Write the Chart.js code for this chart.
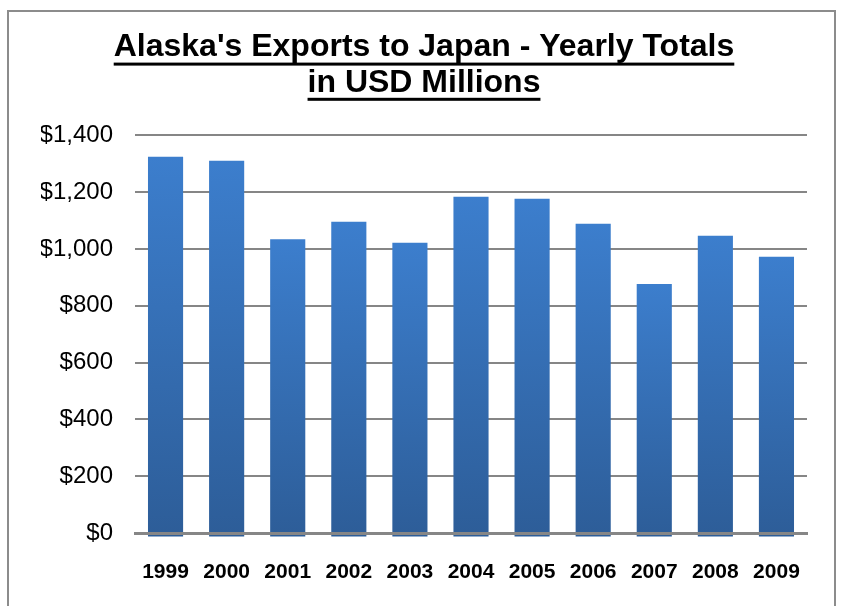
<!DOCTYPE html>
<html>
<head>
<meta charset="utf-8">
<script src="https://cdn.jsdelivr.net/npm/chart.js@4.4.1/dist/chart.umd.min.js"></script>
<style>
body { margin: 0; background: #fff; }
canvas { display: block; }
</style>
</head>
<body>
<canvas id="exportsChart" width="841" height="606"></canvas>
<script>
var years = ['1999', '2000', '2001', '2002', '2003', '2004', '2005', '2006', '2007', '2008', '2009'];
var exportTotals = [1325, 1311, 1034, 1096, 1022, 1184, 1177, 1089, 877, 1047, 973];
var titleLines = ["Alaska's Exports to Japan - Yearly Totals", 'in USD Millions'];

var ctx = document.getElementById('exportsChart').getContext('2d');

// gray frame round the whole chart
const framePlugin = {
    id: 'frame',
    beforeDraw(chart) {
        const c = chart.ctx;
        c.save();
        c.strokeStyle = '#8c8c8c';
        c.lineWidth = 2;
        c.strokeRect(8, 11, 827, 620);
        c.restore();
    }
};

// underline the title lines
const underlinePlugin = {
    id: 'titleUnderline',
    afterDraw(chart) {
        const t = chart.titleBlock;
        if (!t) return;
        const c = chart.ctx;
        const opts = t.options;
        const size = opts.font.size;
        const lh = size * opts.font.lineHeight;
        c.save();
        c.font = 'bold ' + size + 'px "Liberation Sans", Arial, sans-serif';
        c.fillStyle = '#000';
        const cx = (t.left + t.right) / 2;
        opts.text.forEach(function(line, i) {
            const w = c.measureText(line).width;
            const y = t.top + opts.padding.top + lh / 2 + i * lh + 15;
            c.fillRect(cx - w / 2, y, w, 3);
        });
        c.restore();
    }
};

function barGradient(context) {
    const chart = context.chart;
    if (!chart.chartArea || !chart.scales.y) return '#3a78c6';
    const yScale = chart.scales.y;
    const v = context.raw;
    const top = yScale.getPixelForValue(v);
    const bottom = yScale.getPixelForValue(0) + 4;
    const g = chart.ctx.createLinearGradient(0, top, 0, bottom);
    g.addColorStop(0, '#3c7ecd');
    g.addColorStop(1, '#2d5d98');
    return g;
}

var exportsChart = new Chart(ctx, {
    type: 'bar',
    data: {
        labels: years,
        datasets: [{
            data: exportTotals,
            backgroundColor: barGradient,
            borderWidth: 0,
            base: -12,
            clip: false,
            categoryPercentage: 1,
            barPercentage: 0.575
        }]
    },
    options: {
        responsive: false,
        animation: false,
        layout: {
            padding: { left: 41, right: 34, top: 0, bottom: 21 }
        },
        scales: {
            x: {
                afterFit: function(scale) { scale.height = 52; },
                grid: { display: false, drawTicks: false },
                border: { display: true, color: '#868686', width: 3, z: 1 },
                ticks: {
                    color: '#000',
                    padding: 27,
                    font: { family: '"Liberation Sans", Arial, sans-serif', size: 21, weight: 'bold' }
                }
            },
            y: {
                min: 0,
                max: 1400,
                afterFit: function(scale) { scale.width = 94; },
                border: { display: false },
                grid: { color: '#868686', lineWidth: 2, drawTicks: false },
                ticks: {
                    stepSize: 200,
                    color: '#000',
                    padding: 22,
                    font: { family: '"Liberation Sans", Arial, sans-serif', size: 24 },
                    callback: function(value) {
                        return '$' + value.toLocaleString('en-US');
                    }
                }
            }
        },
        plugins: {
            legend: { display: false },
            tooltip: { enabled: false },
            title: {
                display: true,
                text: titleLines,
                color: '#000',
                font: { family: '"Liberation Sans", Arial, sans-serif', size: 32, weight: 'bold', lineHeight: 1.1 },
                padding: { top: 30, bottom: 35 }
            }
        }
    },
    plugins: [framePlugin, underlinePlugin]
});
</script>
</body>
</html>
